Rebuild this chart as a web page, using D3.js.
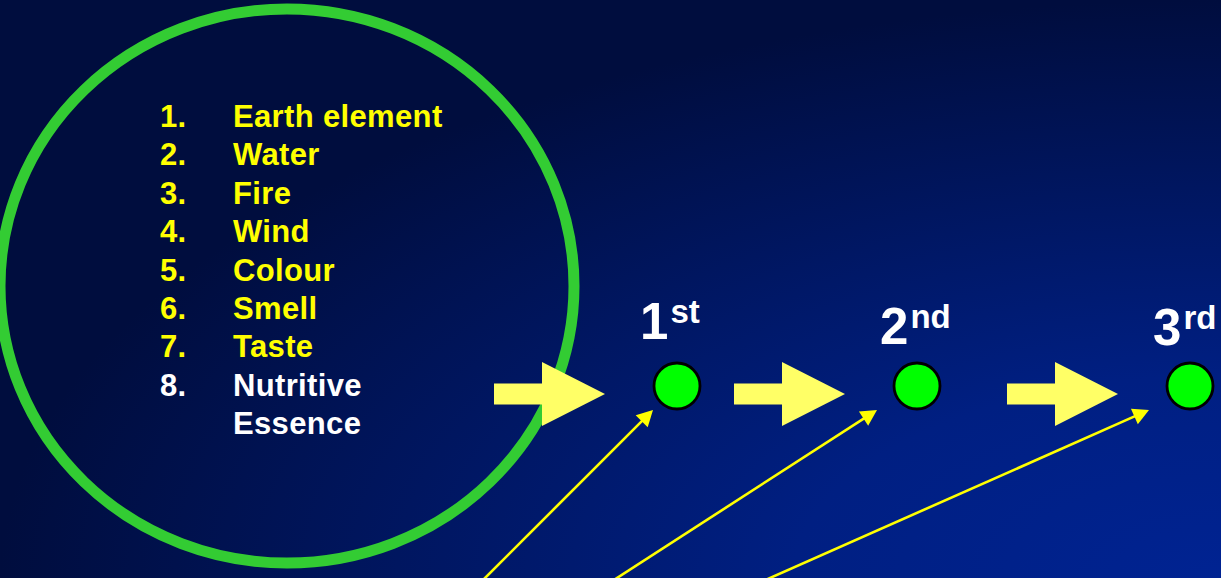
<!DOCTYPE html>
<html><head><meta charset="utf-8">
<script src="https://cdn.jsdelivr.net/npm/d3@7"></script>
<style>html,body{margin:0;padding:0;background:#000d3e;overflow:hidden}</style>
</head><body>
<svg id="c" width="1221" height="578"></svg>
<script>
// ---- data ----
const listNumbers = ["1.", "2.", "3.", "4.", "5.", "6.", "7.", "8."];
const listItems = [["Earth element"], ["Water"], ["Fire"], ["Wind"], ["Colour"], ["Smell"], ["Taste"], ["Nutritive", "Essence"]];
const listGroups = ["element", "element", "element", "element", "element", "element", "element", "essence"];
const stageNumbers = ["1", "2", "3"];
const stageSuffixes = ["st", "nd", "rd"];

// ---- layout ----
const W = 1221, H = 578;
const svg = d3.select("#c");
const defs = svg.append("defs");
const bg = defs.append("radialGradient").attr("id", "bg")
  .attr("cx", 1).attr("cy", 1).attr("r", 1).attr("fx", 1).attr("fy", 1);
bg.append("stop").attr("offset", 0).attr("stop-color", "#002392");
bg.append("stop").attr("offset", 0.35).attr("stop-color", "#001f82");
bg.append("stop").attr("offset", 1).attr("stop-color", "#000d3e");
svg.append("rect").attr("width", W).attr("height", H).attr("fill", "url(#bg)");

const font = "'Liberation Sans', Arial, sans-serif";
const groupColor = d3.scaleOrdinal().domain(["element", "essence"]).range(["#ffff00", "#ffffff"]);

// big circle
svg.append("ellipse").attr("cx", 287).attr("cy", 286).attr("rx", 287).attr("ry", 277)
  .attr("fill", "none").attr("stroke", "#33cc33").attr("stroke-width", 11);

// list
const rowY = d3.scaleLinear().domain([0, 1]).range([127, 165.4]);
let row = 0;
const rows = [];
listItems.forEach((lines, i) => {
  lines.forEach((t, j) => rows.push({num: j === 0 ? listNumbers[i] : "", text: t, group: listGroups[i], r: row++}));
});
const lg = svg.append("g").attr("font-family", font).attr("font-weight", "bold").attr("font-size", 31)
  .attr("letter-spacing", 0.35);
lg.selectAll("text.num").data(rows.filter(d => d.num)).join("text").attr("class", "num")
  .attr("x", 160).attr("y", d => rowY(d.r)).attr("fill", d => groupColor(d.group)).text(d => d.num);
lg.selectAll("text.item").data(rows).join("text").attr("class", "item")
  .attr("x", 233).attr("y", d => rowY(d.r)).attr("fill", d => groupColor(d.group)).text(d => d.text);

// stages
const stageX = d3.scaleOrdinal().domain(stageNumbers).range([677, 917, 1190]);
const labelBase = d3.scaleOrdinal().domain(stageNumbers).range([339, 344, 345]);
const dotY = 386, dotR = 23;

// block arrows
const arrowShape = x0 => {
  const yc = 394;
  return [[x0, yc - 10.5], [x0 + 48, yc - 10.5], [x0 + 48, yc - 32], [x0 + 111, yc],
          [x0 + 48, yc + 32], [x0 + 48, yc + 10.5], [x0, yc + 10.5]];
};
svg.selectAll("polygon.block").data(stageNumbers).join("polygon").attr("class", "block")
  .attr("points", d => arrowShape(stageX(d) - 183).map(p => p.join(",")).join(" "))
  .attr("fill", "#ffff66");

// thin arrows from below
const srcX = d3.scaleOrdinal().domain(stageNumbers).range([485, 617, 770]);
const tipOff = d3.scaleOrdinal().domain(stageNumbers).range([-24, -40, -41]);
stageNumbers.forEach(d => {
  const tx = stageX(d) + tipOff(d), ty = 410;
  const sx = srcX(d), sy = H;
  const ang = Math.atan2(ty - sy, tx - sx);
  const len = 16, half = 8.5;
  const bx = tx - len * Math.cos(ang), by = ty - len * Math.sin(ang);
  const px = -Math.sin(ang), py = Math.cos(ang);
  const ex = sx - 20 * Math.cos(ang), ey = sy - 20 * Math.sin(ang);
  svg.append("line").attr("x1", ex).attr("y1", ey).attr("x2", bx + 2 * Math.cos(ang)).attr("y2", by + 2 * Math.sin(ang))
    .attr("stroke", "#ffff00").attr("stroke-width", 2.6);
  svg.append("polygon")
    .attr("points", [[tx, ty], [bx + px * half, by + py * half], [bx - px * half, by - py * half]].map(p => p.join(",")).join(" "))
    .attr("fill", "#ffff00");
});

// dots
svg.selectAll("circle.dot").data(stageNumbers).join("circle").attr("class", "dot")
  .attr("cx", d => stageX(d)).attr("cy", dotY).attr("r", dotR)
  .attr("fill", "#00ff00").attr("stroke", "#000").attr("stroke-width", 2.8);

// labels
const lab = svg.selectAll("text.stage").data(stageNumbers).join("text").attr("class", "stage")
  .attr("font-family", font).attr("font-weight", "bold").attr("fill", "#fff")
  .attr("x", d => stageX(d) - 37).attr("y", d => labelBase(d));
lab.append("tspan").attr("font-size", 51).text(d => d);
lab.append("tspan").attr("font-size", 33).attr("dy", -16).attr("dx", 2).text((d, i) => stageSuffixes[i]);
</script>
</body></html>
